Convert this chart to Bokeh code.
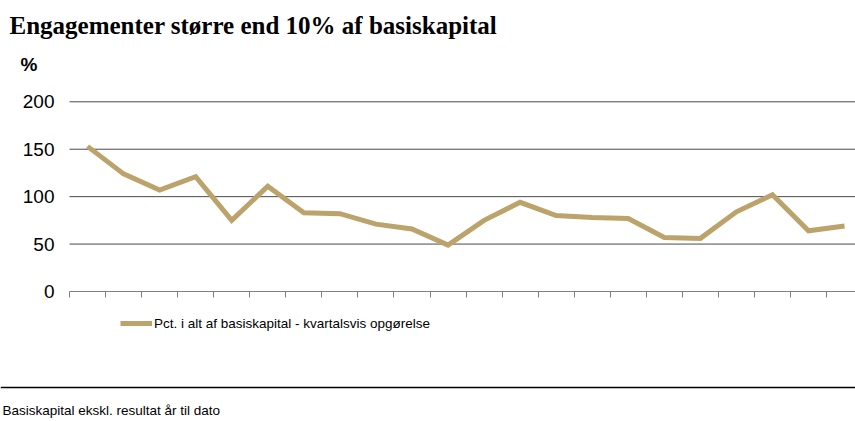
from bokeh.plotting import figure
from bokeh.models import (Range1d, FixedTicker, CustomJSTickFormatter, Label,
                          Legend, LegendItem, Span)
from bokeh.embed import file_html
from bokeh.resources import INLINE

# ---- data ----
quarters = list(range(1, 23))
pct_of_capital = [153, 124, 107, 121, 75, 111, 83, 82, 71, 66, 49,
                  75, 94, 80, 78, 77, 57, 56, 84, 102, 64, 69]
y_ticks = [0, 50, 100, 150, 200]
grid_ticks = [50, 100, 150, 200]
title_text = "Engagementer større end 10% af basiskapital"
unit_text = "%"
series_name = "Pct. i alt af basiskapital - kvartalsvis opgørelse"
footer_text = "Basiskapital ekskl. resultat år til dato"

LINE_COLOR = "#BCA36B"
W, H = 855, 421
PLOT_L, PLOT_B = 69, 291      # pixel position of the chart's origin
X0 = 0.5                      # left edge of first quarter
PPX = 36.05                   # pixels per quarter
PPY = 189.7 / 200             # pixels per percentage point


def dx(px):
    return X0 + (px - PLOT_L) / PPX


def dy(py):
    return (PLOT_B - py) / PPY


X_END = dx(W)

p = figure(width=W, height=H, output_backend="svg", toolbar_location=None,
           x_range=Range1d(dx(0), dx(W)), y_range=Range1d(dy(H), dy(0)),
           min_border=0, min_border_left=0, min_border_right=0,
           min_border_top=0, min_border_bottom=0)
p.outline_line_color = None
p.background_fill_color = "white"
p.border_fill_color = "white"
p.xgrid.grid_line_color = None
p.ygrid.grid_line_color = None

# horizontal gridlines across the plotting area only
p.segment(x0=[X0] * len(grid_ticks), y0=grid_ticks,
          x1=[X_END] * len(grid_ticks), y1=grid_ticks,
          line_color="#4a4a4a", line_width=1)

r = p.line(quarters, pct_of_capital, line_color=LINE_COLOR, line_width=5,
           line_join="miter")

# x axis at y = 0
p.xaxis.fixed_location = 0
p.xaxis.bounds = (X0, X_END)
p.xaxis.ticker = FixedTicker(ticks=[q - 0.5 for q in quarters])
p.xaxis.formatter = CustomJSTickFormatter(code="return ''")
p.xaxis.axis_line_color = "#808080"
p.xaxis.major_tick_line_color = "#808080"
p.xaxis.major_tick_out = 6
p.xaxis.major_tick_in = 0
p.xaxis.minor_tick_line_color = None
p.xaxis.major_label_text_font_size = "1px"

# y axis at left edge of plotting area
p.yaxis.fixed_location = X0
p.yaxis.bounds = (0, 200)
p.yaxis.ticker = FixedTicker(ticks=y_ticks)
p.yaxis.axis_line_color = None
p.yaxis.major_tick_line_color = None
p.yaxis.minor_tick_line_color = None
p.yaxis.major_tick_out = 0
p.yaxis.major_label_standoff = 15
p.yaxis.major_label_text_font = "Liberation Sans"
p.yaxis.major_label_text_font_size = "19px"
p.yaxis.major_label_text_color = "#000000"

# title and unit
p.add_layout(Label(x=dx(9), y=dy(25), text=title_text,
                   text_font="Liberation Serif", text_font_style="bold",
                   text_font_size="25px", text_color="#000000",
                   text_baseline="alphabetic", text_align="left"))
p.add_layout(Label(x=dx(20), y=dy(64), text=unit_text,
                   text_font="Liberation Sans", text_font_style="bold",
                   text_font_size="19px", text_color="#000000",
                   text_baseline="alphabetic", text_align="left"))

# legend
legend = Legend(items=[LegendItem(label=series_name, renderers=[r])],
                location=(120, H - 333),
                orientation="horizontal", padding=0, margin=0, spacing=0,
                glyph_width=32, glyph_height=20, label_height=20,
                label_standoff=2, border_line_color=None,
                background_fill_alpha=0,
                label_text_font="Liberation Sans",
                label_text_font_size="13.5px", label_text_color="#000000")
p.add_layout(legend, "center")

# footer rule and note
p.add_layout(Span(location=dy(387), dimension="width",
                  line_color="#000000", line_width=1.3))
p.add_layout(Label(x=dx(2), y=dy(410), text=footer_text,
                   text_font="Liberation Sans",
                   text_font_size="13.5px", text_color="#000000",
                   text_baseline="alphabetic", text_align="left"))

open("out.html", "w").write(file_html(p, INLINE))
